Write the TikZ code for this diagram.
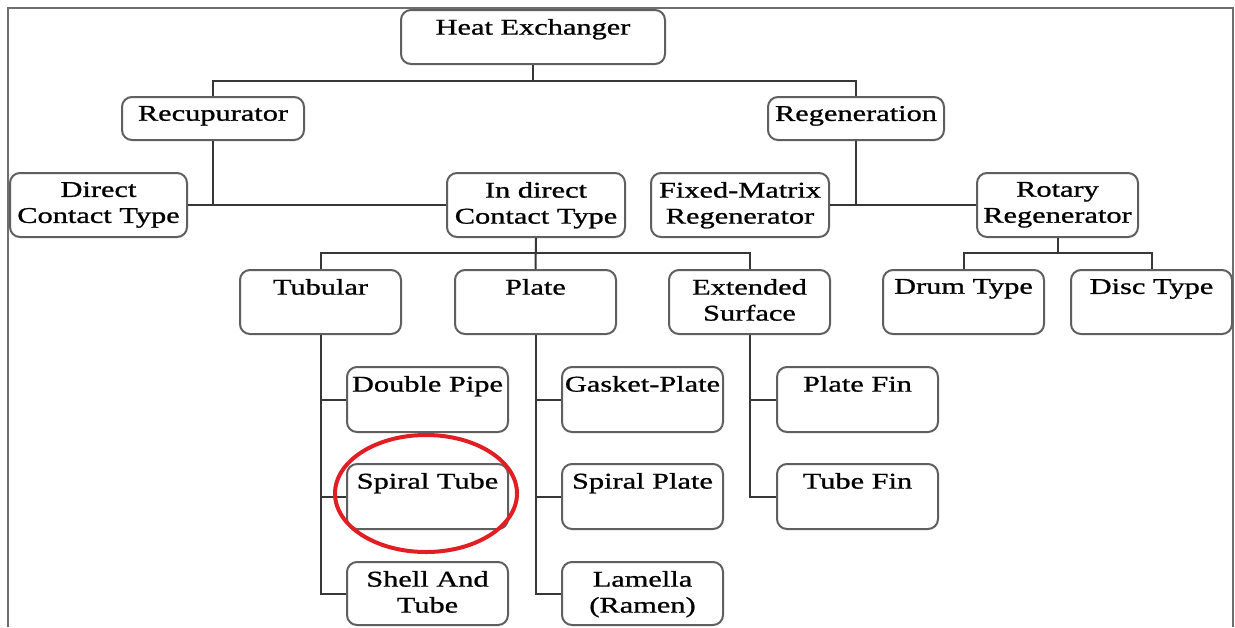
\documentclass[tikz,border=0pt]{standalone}
\usepackage{fontspec}
\usetikzlibrary{shapes.geometric}
\setmainfont{Liberation Serif}[FakeStretch=1.35,FakeBold=1]
\definecolor{boxline}{RGB}{95,95,95}
\definecolor{conn}{RGB}{55,55,55}
\definecolor{frameline}{RGB}{110,110,110}
\definecolor{mark}{RGB}{225,30,35}
\tikzset{
  box/.style={draw=boxline, line width=1pt, rounded corners=5pt, fill=white, inner sep=0pt},
  lbl/.style={anchor=north, inner xsep=0pt, inner ysep=4.8pt, align=center,
              font=\fontsize{11.25}{13}\selectfont, text=black},
  wire/.style={draw=conn, line width=1pt},
}
\newcommand{\mybox}[5]{%
  \node[box, minimum width=#3*0.5pt, minimum height=#4*0.5pt] (#1) at #2 {};
  \node[lbl] (#1t) at (#1.north) {#5};}
\begin{document}
\begin{tikzpicture}[x=0.5pt,y=-0.5pt]
\useasboundingbox (0,0) rectangle (1235,627);
% frame
\coordinate (fbl) at (8,627);
\coordinate (ftl) at (8,8);
\coordinate (ftr) at (1233,8);
\coordinate (fbr) at (1233,627);
\draw[frameline, line width=1pt] (fbl) -- (ftl) -- (ftr) -- (fbr);
% boxes
\mybox{he}{(533,37)}{264}{54}{Heat Exchanger}
\mybox{rec}{(213,118.5)}{182}{43}{Recupurator}
\mybox{reg}{(856,118.5)}{176}{43}{Regeneration}
\mybox{dct}{(98.5,205)}{177}{64}{Direct\\Contact Type}
\mybox{ict}{(536,205)}{178}{64}{In direct\\Contact Type}
\mybox{fmr}{(740,205)}{178}{64}{Fixed-Matrix\\Regenerator}
\mybox{rot}{(1057.5,205)}{161}{64}{Rotary\\Regenerator}
\mybox{tub}{(320.5,302)}{161}{64}{Tubular}
\mybox{pla}{(535.5,302)}{161}{64}{Plate}
\mybox{ext}{(749.5,302)}{161}{64}{Extended\\Surface}
\mybox{drum}{(963.5,302)}{161}{64}{Drum Type}
\mybox{disc}{(1151.5,302)}{161}{64}{Disc Type}
\mybox{dp}{(427.5,399.5)}{161}{65}{Double Pipe}
\mybox{st}{(427.5,496.5)}{161}{65}{Spiral Tube}
\mybox{sat}{(427.5,593.5)}{161}{63}{Shell And\\Tube}
\mybox{gp}{(642.5,399.5)}{161}{65}{Gasket-Plate}
\mybox{sp}{(642.5,496.5)}{161}{65}{Spiral Plate}
\mybox{lam}{(642.5,593.5)}{161}{63}{Lamella\\(Ramen)}
\mybox{pf}{(857.5,399.5)}{161}{65}{Plate Fin}
\mybox{tf}{(857.5,496.5)}{161}{65}{Tube Fin}
% connectors
\draw[wire] (he.south) -- ++(0,16) -| (rec.north);
\draw[wire] (he.south) -- ++(0,16) -| (reg.north);
\draw[wire] (dct.east) -- (ict.west);
\draw[wire] (rec.south) -- (rec.south |- dct.east);
\draw[wire] (fmr.east) -- (rot.west);
\draw[wire] (reg.south) -- (reg.south |- fmr.east);
\draw[wire] (ict.south) -- ++(0,15) -| (tub.north);
\draw[wire] (ict.south) -- ++(0,15) -| (ext.north);
\draw[wire] (ict.south) -- (pla.north);
\draw[wire] (rot.south) -- ++(0,15) -| (drum.north);
\draw[wire] (rot.south) -- ++(0,15) -| (disc.north);
\draw[wire] (tub.south) |- (sat.west);
\draw[wire] (tub.south |- dp.west) -- (dp.west);
\draw[wire] (tub.south |- st.west) -- (st.west);
\draw[wire] (pla.south) |- (lam.west);
\draw[wire] (pla.south |- gp.west) -- (gp.west);
\draw[wire] (pla.south |- sp.west) -- (sp.west);
\draw[wire] (ext.south) |- (tf.west);
\draw[wire] (ext.south |- pf.west) -- (pf.west);
% highlight
\node[draw=mark, line width=2pt, ellipse, minimum width=182*0.5pt, minimum height=117*0.5pt, inner sep=0pt] (hl) at (426,493.5) {};
\end{tikzpicture}
\end{document}
